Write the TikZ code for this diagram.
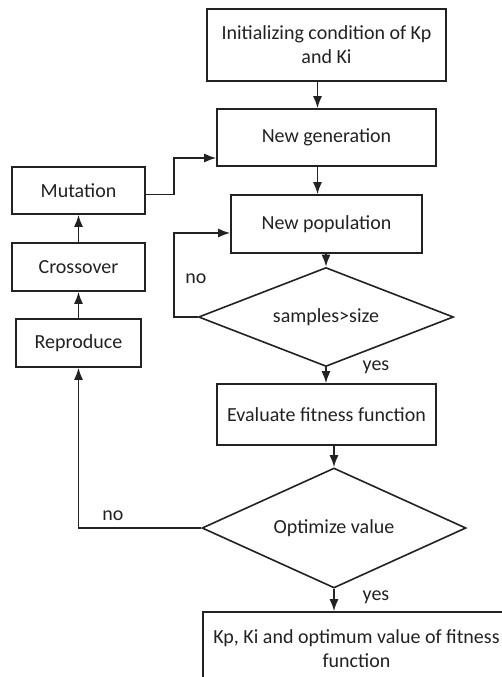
\documentclass[tikz,border=0pt]{standalone}
\usepackage{fontspec}
\setmainfont{Carlito}
\usetikzlibrary{shapes.geometric,arrows.meta,calc}
\definecolor{ink}{HTML}{222222}
\begin{document}
\begin{tikzpicture}[x=1pt,y=-1pt,
  every node/.style={text=ink,font=\fontsize{20}{24}\selectfont},
  box/.style={draw=ink,line width=1.6pt,rectangle,inner sep=0pt,align=center},
  dec/.style={draw=ink,line width=1.6pt,diamond,aspect=2.5,inner sep=0pt},
  arr/.style={draw=ink,line width=1.6pt,-{Latex[length=12pt,width=9pt]}},
  lbl/.style={inner sep=0pt}]
\clip (0,0) rectangle (502,677);
\fill[white] (0,0) rectangle (502,677);
\node[box,minimum width=239,minimum height=72] (init) at (326.5,45) {Initializing condition of Kp\\and Ki};
\node[box,minimum width=219,minimum height=57] (ng) at (326.5,137.5) {New generation};
\node[box,minimum width=191,minimum height=58] (np) at (326.5,224) {New population};
\node[box,minimum width=133,minimum height=47] (mut) at (78.5,190.5) {Mutation};
\node[box,minimum width=133,minimum height=48] (cross) at (78.5,267) {Crossover};
\node[box,minimum width=125,minimum height=48] (rep) at (78.5,343) {Reproduce};
\node[dec,minimum width=255,minimum height=99] (d1) at (326,317) {samples>size};
\node[box,minimum width=219,minimum height=61] (ev) at (326.5,414.5) {Evaluate fitness function};
\node[dec,minimum width=264,minimum height=120] (d2) at (334,528) {Optimize value};
\node[box,minimum width=307,minimum height=73] (fin) at (356.5,648.5) {Kp, Ki and optimum value of fitness\\function};
\node[lbl] (no1) at (196,279) {no};
\node[lbl] (yes1) at (376,367) {yes};
\node[lbl] (no2) at (113,516) {no};
\node[lbl] (yes2) at (376,597) {yes};
\draw[arr] ($(init.south)+(-9,0)$) -- ($(ng.north)+(-9,0)$);
\draw[arr] ($(ng.south)+(-9,0)$) -- ($(np.north)+(-9,0)$);
\draw[arr] (np.south -| d1.north) -- (d1.north);
\draw[arr] (d1.south) -- (d1.south |- ev.north);
\draw[arr] (ev.south -| d2.north) -- (d2.north);
\draw[arr] (d2.south) -- (d2.south |- fin.north);
\draw[arr] (d1.west) -- ++(-24,0) |- ($(np.west)+(0,9)$);
\draw[arr] (d2.west) -| (rep.south);
\draw[arr] (rep.north) -- (cross.south);
\draw[arr] (cross.north) -- (mut.south);
\draw[arr] ($(mut.east)+(0,4)$) -- ++(28,0) |- ($(ng.west)+(0,20.5)$);
\end{tikzpicture}
\end{document}
